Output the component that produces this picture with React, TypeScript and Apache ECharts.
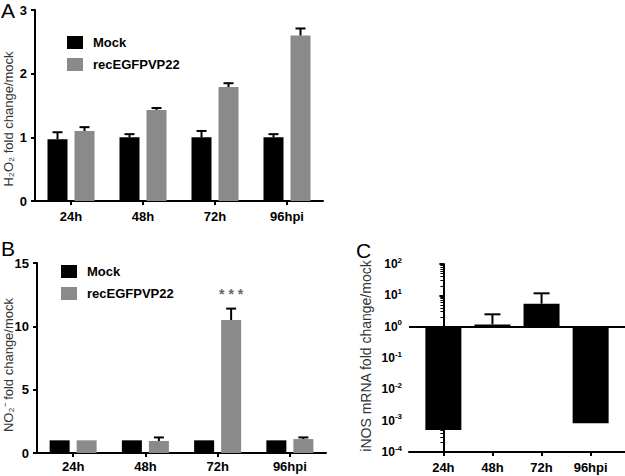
import React, { useEffect, useRef } from 'react';
import * as echarts from 'echarts';

const categories = ['24h', '48h', '72h', '96hpi'];
const seriesNames = ['Mock', 'recEGFPVP22'];

const h2o2Mock = [0.97, 1.0, 1.0, 1.0];
const h2o2MockErr = [0.11, 0.05, 0.1, 0.05];
const h2o2Rec = [1.1, 1.43, 1.79, 2.6];
const h2o2RecErr = [0.06, 0.03, 0.06, 0.11];

const no2Mock = [1.0, 1.0, 1.0, 1.0];
const no2MockErr = [0, 0, 0, 0];
const no2Rec = [1.0, 0.95, 10.5, 1.1];
const no2RecErr = [0, 0.28, 0.9, 0.13];

const inosFold = [0.0005, 1.18, 5.4, 0.00082];
const inosErr = [0, 1.3, 6.2, 0];

const FONT = "'Liberation Sans', Arial, sans-serif";
const BLACK = '#000000';
const GRAY = '#8a8a8a';

const errSeries = (xi: number, yi: number, vals: number[], errs: number[], offset: number, capW: number) => ({
  type: 'custom',
  xAxisIndex: xi,
  yAxisIndex: yi,
  z: 5,
  silent: true,
  data: vals.map((v, i) => [i, v, errs[i]]),
  encode: { x: 0, y: 1 },
  renderItem: (params: any, api: any) => {
    const i = api.value(0);
    const v = api.value(1);
    const e = api.value(2);
    if (!e) return null;
    const p0 = api.coord([i, v]);
    const p1 = api.coord([i, v + e]);
    const x = p0[0] + offset;
    return {
      type: 'group',
      children: [
        { type: 'line', shape: { x1: x, y1: p0[1], x2: x, y2: p1[1] }, style: { stroke: BLACK, lineWidth: 2 } },
        { type: 'line', shape: { x1: x - capW / 2, y1: p1[1], x2: x + capW / 2, y2: p1[1] }, style: { stroke: BLACK, lineWidth: 2 } },
      ],
    };
  },
});

const axisLineStyle = { show: true, lineStyle: { color: BLACK, width: 2 } };
const tickLabel = { color: BLACK, fontWeight: 'bold' as const, fontSize: 13, fontFamily: FONT };

const nameStyle = (text: string) => ({
  text, fontSize: 13, fontFamily: FONT, fill: '#333', align: 'center', verticalAlign: 'middle',
});

export default function App() {
  const ref = useRef<HTMLDivElement>(null);
  useEffect(() => {
    if (!ref.current) return;
    const chart = echarts.init(ref.current, null, { renderer: 'svg' });
    const catX = (gi: number, margin: number) => ({
      type: 'category',
      gridIndex: gi,
      data: categories,
      axisLine: axisLineStyle,
      axisTick: { show: true, alignWithLabel: true, length: 4, lineStyle: { color: BLACK, width: 2 } },
      axisLabel: { ...tickLabel, margin },
      splitLine: { show: false },
    });
    const legendBase = {
      orient: 'vertical', itemWidth: 16, itemHeight: 13, itemGap: 9, icon: 'rect',
      data: seriesNames, selectedMode: false,
      textStyle: { color: BLACK, fontWeight: 'bold', fontSize: 13, fontFamily: FONT, padding: [0, 0, 0, 5] },
    };
    const option: any = {
      animation: false,
      backgroundColor: '#ffffff',
      textStyle: { fontFamily: FONT },
      grid: [
        { left: 35, top: 10, width: 288, height: 191 },
        { left: 37, top: 263, width: 289, height: 190 },
        { left: 409, top: 264, width: 216, height: 188 },
      ],
      legend: [
        { ...legendBase, left: 62, top: 31 },
        { ...legendBase, left: 56, top: 260 },
      ],
      xAxis: [
        catX(0, 9),
        catX(1, 7),
        {
          type: 'value',
          gridIndex: 2,
          min: -0.7,
          max: 3.7,
          axisLine: { ...axisLineStyle, onZero: false },
          axisTick: { show: true, length: 4, customValues: [0, 1, 2, 3], lineStyle: { color: BLACK, width: 2 } },
          axisLabel: { ...tickLabel, margin: 9, customValues: [0, 1, 2, 3], formatter: (v: number) => categories[Math.round(v)] ?? '' },
          splitLine: { show: false },
        },
      ],
      yAxis: [
        {
          type: 'value', gridIndex: 0, min: 0, max: 3, interval: 1,
          axisLine: axisLineStyle,
          axisTick: { show: true, length: 4, lineStyle: { color: BLACK, width: 2 } },
          axisLabel: { ...tickLabel, margin: 8 },
          splitLine: { show: false },
        },
        {
          type: 'value', gridIndex: 1, min: 0, max: 15, interval: 5,
          axisLine: axisLineStyle,
          axisTick: { show: true, length: 4, lineStyle: { color: BLACK, width: 2 } },
          axisLabel: { ...tickLabel, margin: 8 },
          splitLine: { show: false },
        },
        {
          type: 'log', gridIndex: 2, min: 0.0001, max: 100, logBase: 10,
          axisLine: axisLineStyle,
          axisTick: { show: true, length: 4, lineStyle: { color: BLACK, width: 2 } },
          minorTick: { show: true, splitNumber: 9, length: 3, lineStyle: { color: BLACK, width: 1 } },
          axisLabel: {
            margin: 7,
            formatter: (v: number) => `{b|10}{s|${Math.round(Math.log10(v))}}`,
            rich: {
              b: { fontSize: 12, fontWeight: 'bold', fontFamily: FONT, color: BLACK, lineHeight: 16, verticalAlign: 'middle' },
              s: { fontSize: 8, fontWeight: 'bold', fontFamily: FONT, color: BLACK, lineHeight: 16, verticalAlign: 'top' },
            },
          },
          splitLine: { show: false },
        },
      ],
      series: [
        { name: 'Mock', type: 'bar', xAxisIndex: 0, yAxisIndex: 0, data: h2o2Mock, barWidth: 20, barGap: '35%', itemStyle: { color: BLACK } },
        { name: 'recEGFPVP22', type: 'bar', xAxisIndex: 0, yAxisIndex: 0, data: h2o2Rec, barWidth: 20, barGap: '35%', itemStyle: { color: GRAY } },
        errSeries(0, 0, h2o2Mock, h2o2MockErr, -13.5, 10),
        errSeries(0, 0, h2o2Rec, h2o2RecErr, 13.5, 10),
        { name: 'Mock', type: 'bar', xAxisIndex: 1, yAxisIndex: 1, data: no2Mock, barWidth: 20, barGap: '35%', itemStyle: { color: BLACK } },
        {
          name: 'recEGFPVP22', type: 'bar', xAxisIndex: 1, yAxisIndex: 1, barWidth: 20, barGap: '35%', itemStyle: { color: GRAY },
          data: no2Rec.map((v, i) => (i === 2
            ? { value: v, label: { show: true, position: 'top', distance: 19, formatter: '* * *', color: '#666', fontSize: 14, fontWeight: 'bold', fontFamily: FONT } }
            : v)),
        },
        errSeries(1, 1, no2Mock, no2MockErr, -13.5, 10),
        errSeries(1, 1, no2Rec, no2RecErr, 13.5, 10),
        {
          name: 'iNOS', type: 'bar', xAxisIndex: 2, yAxisIndex: 2, barWidth: 36,
          data: inosFold.map((v, i) => [i, v]),
          itemStyle: { color: BLACK },
          markLine: {
            silent: true, symbol: 'none', label: { show: false },
            lineStyle: { color: BLACK, width: 2, type: 'solid' },
            data: [{ yAxis: 1 }],
          },
        },
        errSeries(2, 2, inosFold, inosErr, 0, 16),
      ],
      graphic: [
        { type: 'text', left: 1, top: 0, style: { text: 'A', fontSize: 21, fontFamily: FONT, fill: BLACK } },
        { type: 'text', left: 1, top: 238, style: { text: 'B', fontSize: 21, fontFamily: FONT, fill: BLACK } },
        { type: 'text', left: 356, top: 240, style: { text: 'C', fontSize: 21, fontFamily: FONT, fill: BLACK } },
        { type: 'text', x: 8, y: 119, rotation: Math.PI / 2, style: nameStyle('H\u2082O\u2082 fold change/mock') },
        { type: 'text', x: 8, y: 365, rotation: Math.PI / 2, style: nameStyle('NO\u2082\u207B fold change/mock') },
        { type: 'text', x: 366, y: 356, rotation: Math.PI / 2, style: { ...nameStyle('iNOS mRNA fold change/mock'), fontSize: 14 } },
      ],
    };
    chart.setOption(option);
    return () => chart.dispose();
  }, []);
  return <div ref={ref} style={{ position: 'absolute', left: 0, top: 0, width: 625, height: 476 }} />;
}
